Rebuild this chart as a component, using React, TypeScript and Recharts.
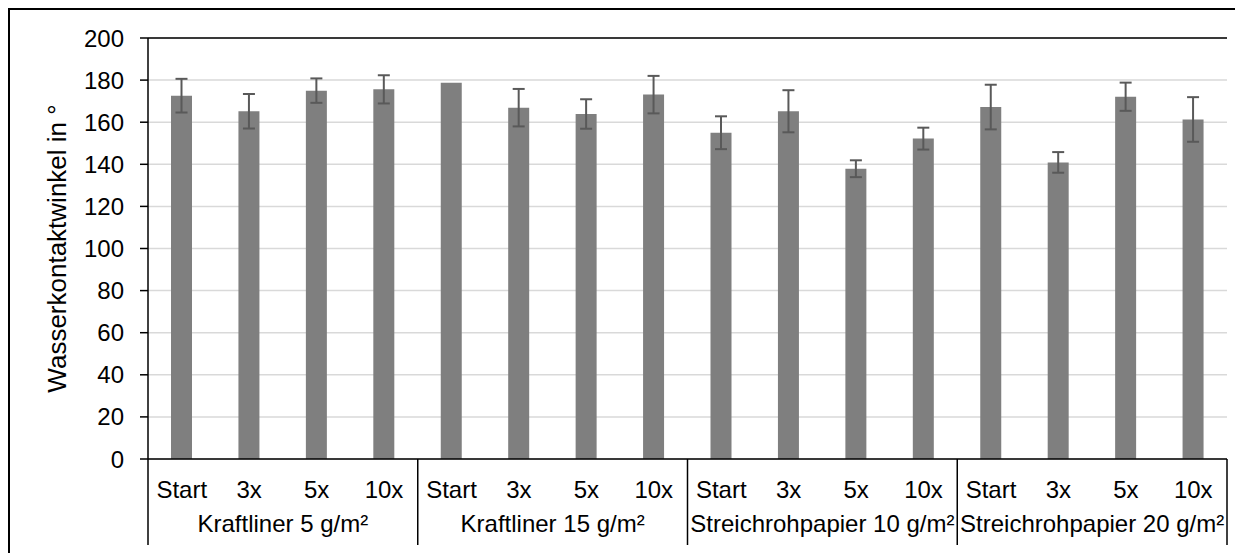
import {
  BarChart,
  Bar,
  ErrorBar,
  CartesianGrid,
  XAxis,
  YAxis,
  ReferenceLine,
} from 'recharts';

const groups = [
  'Kraftliner 5 g/m²',
  'Kraftliner 15 g/m²',
  'Streichrohpapier 10 g/m²',
  'Streichrohpapier 20 g/m²',
];
const steps = ['Start', '3x', '5x', '10x'];
const angles = [
  172.6, 165.2, 175, 175.6, 178.8, 166.9, 163.9, 173.1, 155, 165.2, 137.9, 152.2, 167.2,
  140.9, 172.1, 161.3,
];
const errors = [8, 8.2, 5.8, 6.7, null, 8.9, 7, 8.9, 7.8, 10, 4, 5.2, 10.6, 4.9, 6.7, 10.6];
const yTicks = [0, 20, 40, 60, 80, 100, 120, 140, 160, 180, 200];

const data = angles.map((v, i) => ({
  k: `${groups[Math.floor(i / steps.length)]}|${steps[i % steps.length]}`,
  step: steps[i % steps.length],
  group: groups[Math.floor(i / steps.length)],
  value: v,
  err: errors[i],
}));

// layout
const W = 1233;
const H = 543;
const M = { top: 28, right: 16, left: 38, bottom: 4 };
const Y_W = 100;
const X_H = 90;
const PLOT_W = W - M.left - M.right - Y_W;
const AXIS_Y = H - M.bottom - X_H;
const BAND = PLOT_W / data.length;
const FONT = '"Liberation Sans", Arial, sans-serif';

function GroupTick(props: any) {
  const { x, index } = props;
  const d = data[index];
  if (!d) return null;
  const n = steps.length;
  return (
    <g>
      <text
        x={x}
        y={AXIS_Y + 30}
        textAnchor="middle"
        dominantBaseline="central"
        fontSize={24}
        fontFamily={FONT}
        fill="#000"
      >
        {d.step}
      </text>
      {index % n === 0 && (
        <line x1={x - BAND / 2} x2={x - BAND / 2} y1={AXIS_Y} y2={AXIS_Y + 86} stroke="#000" strokeWidth={1.5} />
      )}
      {index === data.length - 1 && (
        <line x1={x + BAND / 2} x2={x + BAND / 2} y1={AXIS_Y} y2={AXIS_Y + 86} stroke="#000" strokeWidth={1.5} />
      )}
      {index % n === 1 && (
        <text
          x={x + BAND / 2}
          y={AXIS_Y + 64}
          textAnchor="middle"
          dominantBaseline="central"
          fontSize={24}
          fontFamily={FONT}
          fill="#000"
        >
          {d.group}
        </text>
      )}
    </g>
  );
}

export default function App() {
  return (
    <div
      style={{
        width: 1235,
        height: 545,
        borderTop: '2px solid #000',
        borderLeft: '2px solid #000',
        boxSizing: 'border-box',
        overflow: 'hidden',
        background: '#fff',
      }}
    >
      <BarChart width={W} height={H} data={data} margin={M} barSize={21}>
        <CartesianGrid vertical={false} stroke="#d9d9d9" strokeWidth={1.5} />
        <XAxis
          dataKey="k"
          height={X_H}
          interval={0}
          tickLine={false}
          axisLine={{ stroke: '#000', strokeWidth: 1.5 }}
          tick={<GroupTick />}
        />
        <YAxis
          width={Y_W}
          domain={[0, 200]}
          ticks={yTicks}
          interval={0}
          tickSize={8}
          tickMargin={16}
          tickLine={{ stroke: '#000', strokeWidth: 1.5 }}
          axisLine={{ stroke: '#000', strokeWidth: 1.5 }}
          tick={{ fontSize: 24, fontFamily: FONT, fill: '#000' }}
          label={{
            value: 'Wasserkontaktwinkel in °',
            angle: -90,
            position: 'center',
            dx: -41,
            fontSize: 26,
            fontFamily: FONT,
            fill: '#000',
          }}
        />
        <YAxis
          yAxisId="r"
          orientation="right"
          width={0}
          domain={[0, 200]}
          tick={false}
          tickLine={false}
          axisLine={{ stroke: '#000', strokeWidth: 1.5 }}
        />
        <ReferenceLine y={200} stroke="#000" strokeWidth={1.5} />
        <Bar dataKey="value" fill="#7f7f7f" isAnimationActive={false}>
          <ErrorBar dataKey="err" width={6} stroke="#595959" strokeWidth={2} />
        </Bar>
      </BarChart>
    </div>
  );
}
